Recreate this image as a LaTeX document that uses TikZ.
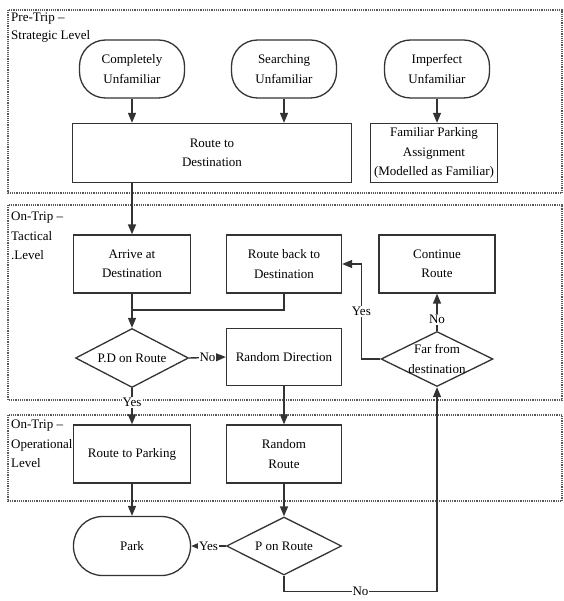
\documentclass[tikz,border=0pt]{standalone}
\usepackage{fontspec}
\setmainfont{Liberation Serif}
\usetikzlibrary{shapes.geometric,arrows.meta}

\begin{document}
\begin{tikzpicture}[x=1pt,y=-1pt,
    font=\fontsize{13}{19.5}\selectfont,
    box/.style={shape=rectangle, draw=black!80, line width=1.3pt, align=center, inner sep=1pt},
    term/.style={box, rounded corners=26pt},
    decide/.style={shape=diamond, draw=black!80, line width=1.3pt, inner sep=0pt},
    level/.style={draw=black!65, densely dotted, line width=1.2pt},
    levtext/.style={anchor=north west, align=left, inner sep=0pt},
    flow/.style={-{Triangle[length=10pt,width=8pt]}, draw=black!80, line width=1.4pt},
    lbl/.style={fill=white, inner sep=1pt}]
    \useasboundingbox (0,0) rectangle (563,601);

    % levels
    \draw[level] (8,10) rectangle (562,193);
    \draw[level] (8,205) rectangle (562,400);
    \draw[level] (8,415) rectangle (562,501);
    \node[levtext, font=\fontsize{13}{18}\selectfont] (pre) at (11,13) {Pre-Trip --\\Strategic Level};
    \node[levtext] (tac) at (11,212) {On-Trip --\\Tactical\\.Level};
    \node[levtext] (ope) at (11,420) {On-Trip --\\Operational\\Level};

    % pre-trip
    \node[term, minimum width=105pt, minimum height=58pt] (cu) at (132,69) {Completely\\Unfamiliar};
    \node[term, minimum width=105pt, minimum height=58pt] (su) at (284,69) {Searching\\Unfamiliar};
    \node[term, minimum width=105pt, minimum height=58pt] (iu) at (437,69) {Imperfect\\Unfamiliar};
    \node[box, minimum width=279pt, minimum height=59pt] (rtd) at (212,153) {Route to\\Destination};
    \node[box, minimum width=127pt, minimum height=59pt, inner sep=0pt] (fpa) at (434,153) {Familiar Parking\\Assignment\\(Modelled as Familiar)};

    % tactical
    \node[box, minimum width=117pt, minimum height=58pt] (arr) at (132,264) {Arrive at\\Destination};
    \node[box, minimum width=115pt, minimum height=58pt] (rbd) at (284,264) {Route back to\\Destination};
    \node[box, minimum width=116pt, minimum height=58pt] (cr) at (437,264) {Continue\\Route};
    \node[decide, minimum width=113pt, minimum height=59pt, label=center:P.D on Route] (pd) at (132,358) {};
    \node[box, minimum width=115pt, minimum height=57pt] (rdir) at (284,357) {Random Direction};
    \node[decide, minimum width=112pt, minimum height=55pt, label={[align=center]center:Far from\\destination}] (far) at (437,359) {};

    % operational
    \node[box, minimum width=117pt, minimum height=58pt] (rpk) at (132,454) {Route to Parking};
    \node[box, minimum width=115pt, minimum height=58pt] (rrt) at (284,454) {Random\\Route};
    \node[term, minimum width=117pt, minimum height=59pt, rounded corners=29pt] (park) at (132,546) {Park};
    \node[decide, minimum width=115pt, minimum height=58pt, label=center:P on Route] (pon) at (284,546) {};

    \coordinate (join) at (132,310);

    \draw[flow] (cu.south) -- (cu.south |- rtd.north);
    \draw[flow] (su.south) -- (su.south |- rtd.north);
    \draw[flow] (iu.south) -- (iu.south |- fpa.north);
    \draw[flow] (arr.north |- rtd.south) -- (arr.north);
    \draw[flow] (arr.south) -- (pd.north);
    \draw[flow, -] (rbd.south) |- (join);
    \draw[flow] (pd.east) -- node[lbl] {No} (rdir.west);
    \draw[flow] (pd.south) -- node[lbl, pos=0.4] {Yes} (rpk.north);
    \draw[flow] (rdir.south) -- (rrt.north);
    \draw[flow] (far.west) -- ++(-19,0) |- node[lbl, pos=0.25] {Yes} (rbd.east);
    \draw[flow] (far.north) -- node[lbl, pos=0.3] {No} (cr.south);
    \draw[flow] (rpk.south) -- (park.north);
    \draw[flow] (rrt.south) -- (pon.north);
    \draw[flow] (pon.west) -- node[lbl] {Yes} (park.east);
    \draw[flow] (pon.south) -- ++(0,16) -| node[lbl, pos=0.25] {No} (far.south);
\end{tikzpicture}
\end{document}
